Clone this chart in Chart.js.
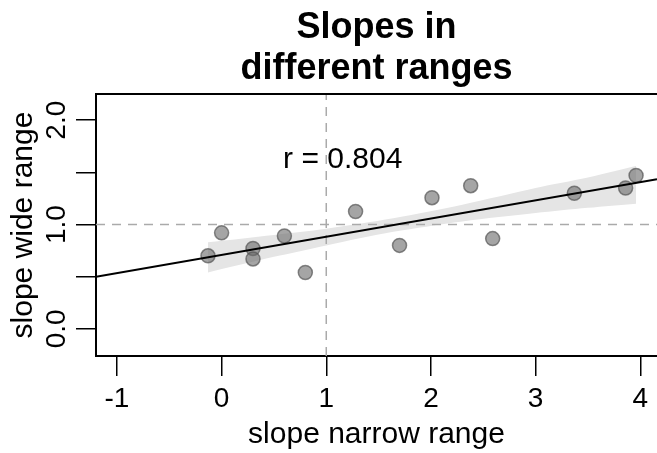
<!DOCTYPE html>
<html>
<head>
<meta charset="utf-8">
<script src="https://cdn.jsdelivr.net/npm/chart.js@4.4.1/dist/chart.umd.min.js"></script>
<style>
  html, body { margin: 0; padding: 0; background: #fff; }
</style>
</head>
<body>
<canvas id="grafico" width="657" height="453"></canvas>
<script>
// pontos
const narrowSlopes = [-0.13, 0.00, 0.30, 0.30, 0.60, 0.80, 1.28, 1.70, 2.01, 2.38, 2.59, 3.37, 3.86, 3.96];
const wideSlopes   = [0.70, 0.92, 0.77, 0.67, 0.89, 0.54, 1.125, 0.80, 1.257, 1.372, 0.865, 1.30, 1.35, 1.47];

// reta de regressao (extremos do eixo)
const fitX = [-1.2, 4.16];
const fitY = [0.50, 1.435];

// faixa de confianca
const bandX    = [-0.13, 0.5, 1.0, 1.64, 2.3, 3.0, 3.5, 3.96];
const bandLow  = [0.54, 0.69, 0.80, 0.93, 1.03, 1.11, 1.16, 1.20];
const bandHigh = [0.83, 0.90, 0.96, 1.06, 1.19, 1.35, 1.45, 1.56];

// linhas de referencia
const refX = 1;
const refY = 1;

const xTicks = [-1, 0, 1, 2, 3, 4];
const yTicks = [0, 0.5, 1, 1.5, 2];
const yLabelValues = [0, 1, 2];
const yLabels = ['0.0', '1.0', '2.0'];

const rText = 'r = 0.804';

const xMin = -1.2, xMax = 4.16;
const yMin = -0.26, yMax = 2.25;

Chart.defaults.font.family = "'Liberation Sans', Arial, sans-serif";
Chart.defaults.color = '#000';

const extras = {
  id: 'extras',
  afterDraw(chart) {
    const { ctx, chartArea, scales: { x, y } } = chart;
    ctx.save();
    // borda de cima
    ctx.strokeStyle = '#000';
    ctx.lineWidth = 2;
    ctx.beginPath();
    ctx.moveTo(chartArea.left - 1, chartArea.top);
    ctx.lineTo(chartArea.right, chartArea.top);
    ctx.stroke();

    // rotulos do eixo y (girados, estilo R)
    ctx.fillStyle = '#000';
    ctx.font = "28px 'Liberation Sans', Arial, sans-serif";
    ctx.textAlign = 'center';
    ctx.textBaseline = 'alphabetic';
    yLabelValues.forEach((v, i) => {
      const py = y.getPixelForValue(v);
      ctx.save();
      ctx.translate(65, py);
      ctx.rotate(-Math.PI / 2);
      ctx.fillText(yLabels[i], 0, 0);
      ctx.restore();
    });

    // texto do r
    ctx.font = "30px 'Liberation Sans', Arial, sans-serif";
    ctx.textBaseline = 'middle';
    ctx.fillText(rText, x.getPixelForValue(1.157), y.getPixelForValue(1.623));
    ctx.restore();
  }
};

const ctx = document.getElementById('grafico').getContext('2d');
const chart = new Chart(ctx, {
  type: 'scatter',
  data: {
    datasets: [
      {
        type: 'line',
        label: 'faixa sup',
        data: bandX.map((v, i) => ({ x: v, y: bandHigh[i] })),
        fill: '+1',
        backgroundColor: '#e5e5e5',
        borderWidth: 0,
        pointRadius: 0,
        tension: 0.3,
        order: 5
      },
      {
        type: 'line',
        label: 'faixa inf',
        data: bandX.map((v, i) => ({ x: v, y: bandLow[i] })),
        fill: false,
        borderWidth: 0,
        pointRadius: 0,
        tension: 0.3,
        order: 5
      },
      {
        type: 'line',
        label: 'ref x',
        data: [{ x: refX, y: yMin }, { x: refX, y: yMax }],
        borderColor: '#aaaaaa',
        borderWidth: 1.5,
        borderDash: [9, 7],
        pointRadius: 0,
        order: 3
      },
      {
        type: 'line',
        label: 'ref y',
        data: [{ x: xMin, y: refY }, { x: xMax, y: refY }],
        borderColor: '#aaaaaa',
        borderWidth: 1.5,
        borderDash: [9, 7],
        pointRadius: 0,
        order: 3
      },
      {
        label: 'slopes',
        data: narrowSlopes.map((v, i) => ({ x: v, y: wideSlopes[i] })),
        backgroundColor: 'rgba(105, 105, 105, 0.6)',
        borderColor: 'rgba(85, 85, 85, 0.7)',
        borderWidth: 1.5,
        pointRadius: 7,
        order: 2
      },
      {
        type: 'line',
        label: 'fit',
        data: fitX.map((v, i) => ({ x: v, y: fitY[i] })),
        borderColor: '#000',
        borderWidth: 2,
        pointRadius: 0,
        order: 1
      }
    ]
  },
  options: {
    responsive: false,
    animation: false,
    layout: { padding: 0, autoPadding: false },
    plugins: {
      legend: { display: false },
      tooltip: { enabled: false },
      title: {
        display: true,
        text: ['Slopes in', 'different ranges'],
        fullSize: false,
        color: '#000',
        font: { size: 36, weight: 'bold', lineHeight: 1.14 },
        padding: { top: 8, bottom: 4 }
      }
    },
    scales: {
      x: {
        type: 'linear',
        min: xMin,
        max: xMax,
        afterBuildTicks: s => { s.ticks = xTicks.map(v => ({ value: v })); },
        afterFit: s => { s.height = 97; s.paddingLeft = 0; s.paddingRight = 0; },
        ticks: {
          font: { size: 28 },
          color: '#000',
          padding: 6,
          maxRotation: 0,
          autoSkip: false,
          callback: v => String(v)
        },
        grid: { drawOnChartArea: false, drawTicks: true, tickLength: 20, color: '#000', lineWidth: 1.5 },
        border: { display: true, color: '#000', width: 2 },
        title: { display: true, text: 'slope narrow range', font: { size: 30 }, color: '#000', padding: { top: 0, bottom: 0 } }
      },
      y: {
        type: 'linear',
        min: yMin,
        max: yMax,
        afterBuildTicks: s => { s.ticks = yTicks.map(v => ({ value: v })); },
        afterFit: s => { s.width = 96; s.paddingTop = 0; s.paddingBottom = 0; },
        ticks: { display: false },
        grid: { drawOnChartArea: false, drawTicks: true, tickLength: 20, color: '#000', lineWidth: 1.5 },
        border: { display: true, color: '#000', width: 2 },
        title: { display: true, text: 'slope wide range', font: { size: 30 }, color: '#000', padding: { top: 6, bottom: 0 } }
      }
    }
  },
  plugins: [extras]
});
</script>
</body>
</html>
